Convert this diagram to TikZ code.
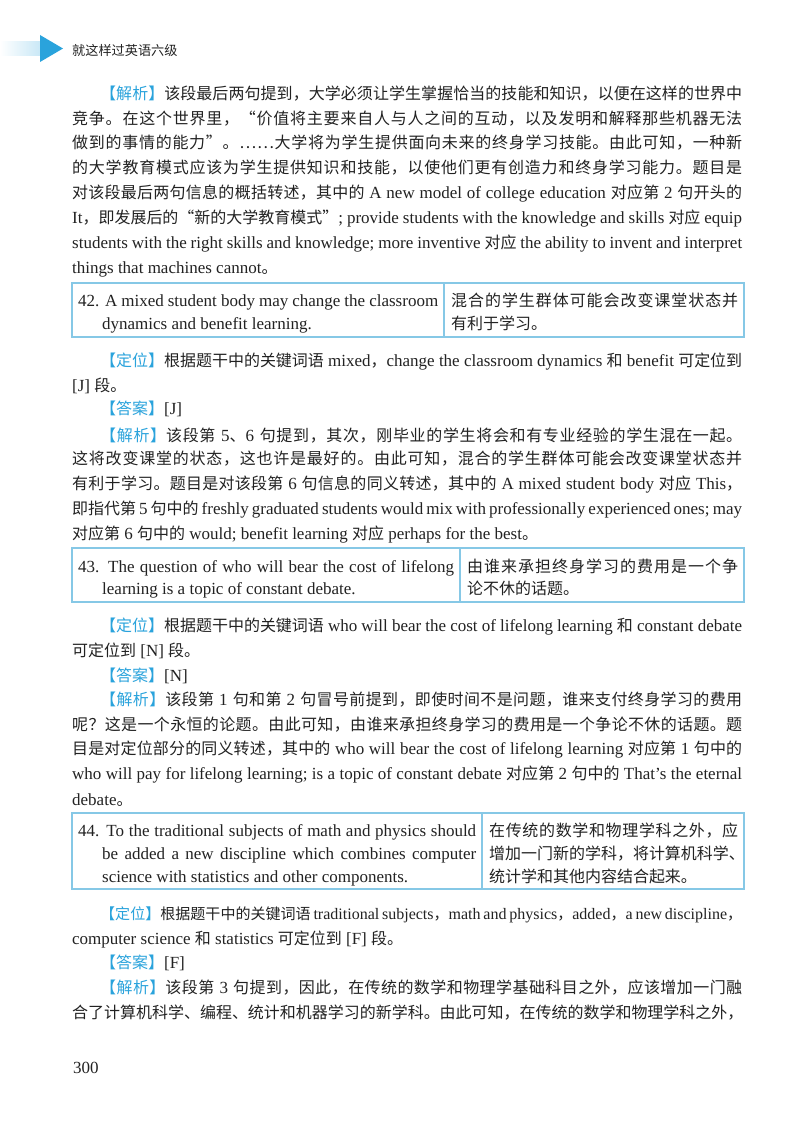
\documentclass[tikz,border=0pt]{standalone}
\usepackage{fontspec}
\setmainfont{Liberation Serif}
\newfontfamily\latf{Liberation Serif}
\newfontfamily\cjkf[Scale=0.94]{Noto Sans CJK SC}
\newfontfamily\cjkh{Noto Sans CJK SC}
\XeTeXinterchartokenstate=1
\newXeTeXintercharclass\cjkclass
\count255="4E00
\loop\XeTeXcharclass\count255=\cjkclass\advance\count255 1\ifnum\count255<"A000\repeat
\count255="3000
\loop\XeTeXcharclass\count255=\cjkclass\advance\count255 1\ifnum\count255<"3040\repeat
\count255="FF00
\loop\XeTeXcharclass\count255=\cjkclass\advance\count255 1\ifnum\count255<"FFF0\repeat
\XeTeXcharclass"201C=\cjkclass
\XeTeXcharclass"201D=\cjkclass
\XeTeXcharclass"2026=\cjkclass
\XeTeXinterchartoks 0 \cjkclass = {\cjkf}
\XeTeXinterchartoks 4095 \cjkclass = {\cjkf}
\XeTeXinterchartoks \cjkclass 0 = {\latf}
\XeTeXinterchartoks \cjkclass 4095 = {\latf}
\XeTeXinterchartoks \cjkclass \cjkclass = {\hskip0pt plus 1pt\relax}
\definecolor{hb}{HTML}{2AA3DC}
\definecolor{bxc}{HTML}{86C8E6}
\definecolor{txt}{HTML}{222222}
\newcommand\tg[1]{{\cjkf\color{hb}【#1】}}
\newcommand\J[4]{\node[tx] (#1) at (#2,#3+6) {\hbox to \dimexpr742pt-#2pt\relax{#4}};}
\newcommand\JW[5]{\node[tx] (#1) at (#2,#3+6) {\hbox to \dimexpr#4pt-#2pt\relax{#5}};}
\newcommand\N[4]{\node[tx] (#1) at (#2,#3+6) {#4};}
\begin{document}
\begin{tikzpicture}[x=1pt,y=-1pt,
  tx/.style={anchor=base west,inner sep=0pt,text=txt,font=\fontsize{17}{20}\selectfont\latf},
  bx/.style={draw=bxc,line width=1.1pt}]
\useasboundingbox (0,0) rectangle (800,1131);
\fill[white] (0,0) rectangle (800,1131);
% header
\shade[left color=white,right color=hb!25] (0,42) rectangle (40,56);
\fill[hb] (40,35) -- (63,48.5) -- (40,62) -- cycle;
\node[anchor=west,inner sep=0pt,text=txt,font=\fontsize{14}{16}\selectfont\cjkh] (head) at (72,50) {就这样过英语六级};
% para 1
\J{a1}{100}{94}{\tg{解析}该段最后两句提到，大学必须让学生掌握恰当的技能和知识，以便在这样的世界中}
\J{a2}{72}{119}{竞争。在这个世界里，“价值将主要来自人与人之间的互动，以及发明和解释那些机器无法}
\J{a3}{72}{143}{做到的事情的能力”。……大学将为学生提供面向未来的终身学习技能。由此可知，一种新}
\J{a4}{72}{168}{的大学教育模式应该为学生提供知识和技能，以使他们更有创造力和终身学习能力。题目是}
\J{a5}{72}{193}{对该段最后两句信息的概括转述，其中的 A new model of college education 对应第 2 句开头的}
\J{a6}{72}{218}{It，即发展后的“新的大学教育模式”; provide students with the knowledge and skills 对应 equip}
\J{a7}{72}{243}{students with the right skills and knowledge; more inventive 对应 the ability to invent and interpret}
\N{a8}{72}{268}{things that machines cannot。}
% box 42
\draw[bx] (72,283) rectangle (744,337);
\draw[bx] (444,283) -- (444,337);
\JW{b1}{78}{300}{438}{42. A mixed student body may change the classroom}
\N{b2}{102}{323}{dynamics and benefit learning.}
\JW{b3}{451}{300}{738}{混合的学生群体可能会改变课堂状态并}
\N{b4}{451}{323}{有利于学习。}
% 42 analysis
\J{c1}{100}{360}{\tg{定位}根据题干中的关键词语 mixed，change the classroom dynamics 和 benefit 可定位到}
\N{c2}{72}{385}{[J] 段。}
\N{c3}{100}{408}{\tg{答案}[J]}
\J{c4}{100}{435}{\tg{解析}该段第 5、6 句提到，其次，刚毕业的学生将会和有专业经验的学生混在一起。}
\J{c5}{72}{458}{这将改变课堂的状态，这也许是最好的。由此可知，混合的学生群体可能会改变课堂状态并}
\J{c6}{72}{483}{有利于学习。题目是对该段第 6 句信息的同义转述，其中的 A mixed student body 对应 This，}
\J{c7}{72}{508}{即指代第 5 句中的 freshly graduated students would mix with professionally experienced ones; may}
\N{c8}{72}{533}{对应第 6 句中的 would; benefit learning 对应 perhaps for the best。}
% box 43
\draw[bx] (72,548) rectangle (744,602);
\draw[bx] (460,548) -- (460,602);
\JW{d1}{78}{566}{454}{43. The question of who will bear the cost of lifelong}
\N{d2}{102}{588}{learning is a topic of constant debate.}
\JW{d3}{467}{566}{738}{由谁来承担终身学习的费用是一个争}
\N{d4}{467}{588}{论不休的话题。}
% 43 analysis
\J{e1}{100}{625}{\tg{定位}根据题干中的关键词语 who will bear the cost of lifelong learning 和 constant debate}
\N{e2}{72}{650}{可定位到 [N] 段。}
\N{e3}{100}{675}{\tg{答案}[N]}
\J{e4}{100}{699}{\tg{解析}该段第 1 句和第 2 句冒号前提到，即使时间不是问题，谁来支付终身学习的费用}
\J{e5}{72}{724}{呢？这是一个永恒的论题。由此可知，由谁来承担终身学习的费用是一个争论不休的话题。题}
\J{e6}{72}{748}{目是对定位部分的同义转述，其中的 who will bear the cost of lifelong learning 对应第 1 句中的}
\J{e7}{72}{773}{who will pay for lifelong learning; is a topic of constant debate 对应第 2 句中的 That’s the eternal}
\N{e8}{72}{799}{debate。}
% box 44
\draw[bx] (72,813) rectangle (744,889);
\draw[bx] (482,813) -- (482,889);
\JW{f1}{78}{830}{476}{44. To the traditional subjects of math and physics should}
\JW{f2}{102}{853}{476}{be added a new discipline which combines computer}
\N{f3}{102}{876}{science with statistics and other components.}
\JW{f4}{489}{830}{738}{在传统的数学和物理学科之外，应}
\JW{f5}{489}{853}{738}{增加一门新的学科，将计算机科学、}
\N{f6}{489}{876}{统计学和其他内容结合起来。}
% 44 analysis
\J{g1}{100}{913}{\fontsize{16}{20}\selectfont\tg{定位}根据题干中的关键词语 traditional subjects，math and physics，added，a new discipline，}
\N{g2}{72}{938}{computer science 和 statistics 可定位到 [F] 段。}
\N{g3}{100}{962}{\tg{答案}[F]}
\J{g4}{100}{987}{\tg{解析}该段第 3 句提到，因此，在传统的数学和物理学基础科目之外，应该增加一门融}
\J{g5}{72}{1012}{合了计算机科学、编程、统计和机器学习的新学科。由此可知，在传统的数学和物理学科之外，}
\node[anchor=base west,inner sep=0pt,text=txt,font=\fontsize{17}{20}\selectfont\latf] (pg) at (73,1073) {300};
\end{tikzpicture}
\end{document}
